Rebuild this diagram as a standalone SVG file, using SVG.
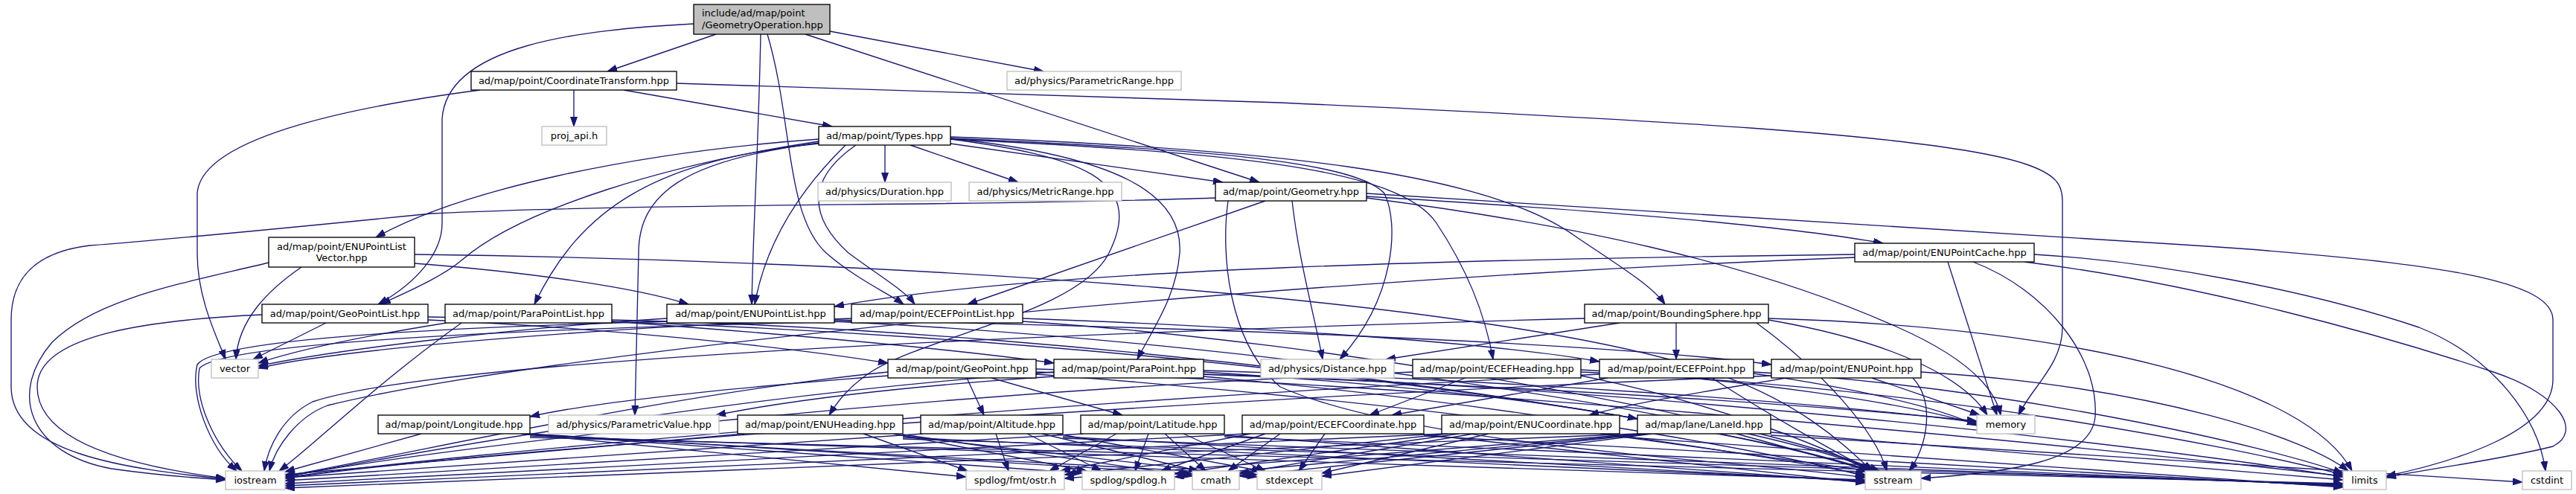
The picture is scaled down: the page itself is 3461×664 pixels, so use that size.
<svg xmlns="http://www.w3.org/2000/svg" width="3461" height="664" viewBox="0 0 3461 664">
<style>
.n rect{fill:#fff;stroke:#000;stroke-width:1.33}
.x rect{fill:#fff;stroke:#bfbfbf;stroke-width:1.33}
.r rect{fill:#bfbfbf;stroke:#000;stroke-width:1.33}
text{font-family:"DejaVu Sans","Liberation Sans",sans-serif;font-size:13px;fill:#000;text-anchor:middle}
.l{text-anchor:start}
#edges path{fill:none;stroke:#191970;stroke-width:1.33;marker-end:url(#a)}
</style>
<defs>
<marker id="a" markerUnits="userSpaceOnUse" markerWidth="14" markerHeight="10" refX="13" refY="4.5" orient="auto"><path d="M0,0 L13,4.5 L0,9 z" fill="#191970" stroke="#191970" stroke-width="1"/></marker>
</defs>
<rect width="3461" height="664" fill="#fff"/>
<g id="edges">
<path d="M962,46 L816,96"/>
<path d="M1115,42 L1402,96"/>
<path d="M1082,46 L1692,245"/>
<path d="M1022,46 C1019,200 1012,300 1010,409"/>
<path d="M1031,46 C1065,160 1055,290 1110,340 C1150,375 1195,395 1214,409"/>
<path d="M932,32 C780,40 600,60 594,160 L594,300 C594,340 560,380 508,409"/>
<path d="M771,121 L771,170"/>
<path d="M838,121 L1118,170"/>
<path d="M909,112 L1720,138 C2200,160 2600,180 2720,220 C2765,235 2771,250 2771,270 L2771,440 C2771,490 2730,520 2712,558"/>
<path d="M645,121 C500,140 270,180 265,260 L265,340 C265,400 290,450 303,483"/>
<path d="M1189,195 L1189,245"/>
<path d="M1223,195 L1368,245"/>
<path d="M1277,193 L1643,245"/>
<path d="M1100,187 C850,205 620,255 505,319"/>
<path d="M1100,190 C900,220 700,280 620,350 C590,375 540,395 512,409"/>
<path d="M1100,193 C880,215 780,280 718,409"/>
<path d="M1136,195 C1080,250 1030,320 1014,409"/>
<path d="M1150,195 C1085,240 1085,290 1140,340 C1180,370 1215,390 1229,409"/>
<path d="M1100,192 C920,215 858,260 858,340 L853,558"/>
<path d="M1277,187 C1450,210 1540,240 1490,340 C1450,420 1250,450 1170,500 C1140,520 1125,540 1114,558"/>
<path d="M1277,186 C1500,210 1590,260 1585,340 C1580,400 1550,440 1528,483"/>
<path d="M1277,184 C1700,200 2000,230 2120,320 C2180,360 2220,385 2237,409"/>
<path d="M1277,186 C1600,200 1820,215 1860,260 C1880,300 1875,400 1800,483"/>
<path d="M1277,187 C1650,205 1880,225 1930,300 C1970,360 1995,420 2006,483"/>
<path d="M1700,270 L1300,409"/>
<path d="M1836,264 C2100,280 2380,300 2530,327"/>
<path d="M1736,270 C1745,350 1765,420 1777,483"/>
<path d="M1633,266 C1300,278 900,272 580,287 C450,300 250,320 120,330 C40,340 15,380 15,430 L15,520 C15,610 170,630 303,644"/>
<path d="M1836,260 L2870,325 C3300,350 3430,380 3430,430 L3430,510 C3430,580 3300,620 3206,640"/>
<path d="M1836,266 C2100,300 2350,350 2550,440 C2640,480 2680,520 2688,558"/>
<path d="M1650,270 C1640,340 1650,460 1720,520 C1900,600 2350,620 2506,642"/>
<path d="M2492,342 C2000,348 1400,360 1121,412"/>
<path d="M2733,342 C2900,352 3100,390 3250,440 C3350,480 3410,560 3420,633"/>
<path d="M2720,352 C2950,380 3200,450 3350,500 C3440,530 3470,580 3430,600 C3350,620 3260,630 3206,642"/>
<path d="M2617,352 L2683,558"/>
<path d="M2651,352 C2750,390 2820,480 2815,560 C2810,620 2700,635 2581,643"/>
<path d="M2492,346 C1600,380 700,480 440,545 C400,560 370,600 362,633"/>
<path d="M557,354 C700,365 850,385 925,409"/>
<path d="M405,359 C360,390 320,430 317,483"/>
<path d="M361,353 C250,380 130,400 70,460 C10,530 40,610 150,630 C220,640 270,643 303,645"/>
<path d="M557,342 C1200,350 2000,400 2300,500 C2420,540 2480,600 2515,633"/>
<path d="M575,430 C800,440 1050,465 1193,488"/>
<path d="M438,434 L340,483"/>
<path d="M352,423 C200,430 50,450 50,520 C50,600 200,630 303,643"/>
<path d="M575,426 C1500,440 2300,560 2510,633"/>
<path d="M822,432 C1000,445 1250,465 1416,488"/>
<path d="M600,434 C500,450 400,470 347,488"/>
<path d="M620,434 C500,520 420,600 375,633"/>
<path d="M822,430 C1500,445 2300,560 2515,633"/>
<path d="M1121,430 C1600,440 2150,460 2380,490"/>
<path d="M896,428 C700,440 450,470 347,492"/>
<path d="M896,432 C600,440 290,455 265,490 C255,530 280,600 318,633"/>
<path d="M1121,432 C1700,460 2350,560 2520,633"/>
<path d="M1374,428 C1700,440 2000,460 2149,486"/>
<path d="M1144,428 C800,440 450,470 347,495"/>
<path d="M1144,432 C700,442 300,460 268,495 C260,540 290,600 325,633"/>
<path d="M1374,432 C1800,460 2350,560 2525,633"/>
<path d="M2252,434 L2252,483"/>
<path d="M2176,434 L1862,483"/>
<path d="M2129,428 C1500,445 600,480 420,540 C380,560 360,600 355,633"/>
<path d="M2376,428 C2800,440 3100,520 3160,633"/>
<path d="M2376,430 C2550,460 2640,510 2670,558"/>
<path d="M2360,434 C2450,500 2520,580 2535,633"/>
<path d="M1193,505 C1000,520 800,540 712,560"/>
<path d="M1299,508 L1322,558"/>
<path d="M1332,508 L1508,558"/>
<path d="M1193,500 C900,530 600,600 383,640"/>
<path d="M1392,500 C2000,520 2800,600 3148,640"/>
<path d="M1392,496 C1900,510 2400,540 2656,566"/>
<path d="M1392,503 C1900,540 2300,600 2506,638"/>
<path d="M1416,506 C1200,520 1050,540 962,558"/>
<path d="M1617,500 C1850,515 2050,535 2200,563"/>
<path d="M1416,500 C1000,530 600,600 383,641"/>
<path d="M1617,503 C2200,520 2900,600 3148,641"/>
<path d="M1617,498 C2000,510 2450,540 2656,568"/>
<path d="M1617,506 C2000,540 2350,600 2506,640"/>
<path d="M1969,508 L1840,558"/>
<path d="M1898,500 C1200,530 600,600 383,641"/>
<path d="M2124,500 C2600,520 3000,600 3148,638"/>
<path d="M2124,497 C2350,510 2550,540 2656,570"/>
<path d="M2124,505 C2300,540 2450,600 2512,633"/>
<path d="M2160,508 L1870,558"/>
<path d="M2149,503 C1400,540 600,610 383,642"/>
<path d="M2356,500 C2700,520 3050,600 3148,636"/>
<path d="M2356,502 C2480,520 2600,545 2656,572"/>
<path d="M2300,508 C2380,560 2470,610 2515,633"/>
<path d="M2400,508 C2300,525 2200,540 2135,558"/>
<path d="M2380,505 C1500,540 600,610 383,643"/>
<path d="M2581,500 C2900,520 3100,590 3155,633"/>
<path d="M2515,508 L2660,558"/>
<path d="M2570,508 C2600,540 2590,600 2565,633"/>
<path d="M566,583 L383,634"/>
<path d="M700,583 L1298,641"/>
<path d="M705,583 L1454,636"/>
<path d="M710,583 L1602,637"/>
<path d="M712,584 L1689,638"/>
<path d="M712,586 L2506,645"/>
<path d="M712,588 L3148,650"/>
<path d="M1000,583 L383,638"/>
<path d="M1160,583 L1300,633"/>
<path d="M1200,583 L1460,633"/>
<path d="M1213,584 L1602,640"/>
<path d="M1213,586 L1689,641"/>
<path d="M1213,588 L2506,646"/>
<path d="M1213,590 L3148,651"/>
<path d="M1240,583 L383,642"/>
<path d="M1338,583 L1355,633"/>
<path d="M1380,583 L1480,633"/>
<path d="M1400,583 L1610,633"/>
<path d="M1420,583 L1695,633"/>
<path d="M1428,587 L2506,647"/>
<path d="M1428,589 L3148,652"/>
<path d="M1455,583 L383,646"/>
<path d="M1500,583 L1410,633"/>
<path d="M1543,583 L1525,633"/>
<path d="M1565,583 L1620,633"/>
<path d="M1590,583 L1700,633"/>
<path d="M1645,585 L2506,648"/>
<path d="M1645,587 L3148,653"/>
<path d="M1675,583 L383,650"/>
<path d="M1680,583 L1425,633"/>
<path d="M1700,583 L1560,633"/>
<path d="M1720,583 L1650,633"/>
<path d="M1780,583 L1745,633"/>
<path d="M1913,584 L2506,649"/>
<path d="M1913,586 L3148,654"/>
<path d="M1940,583 L383,653"/>
<path d="M1945,583 L1430,638"/>
<path d="M1960,583 L1578,637"/>
<path d="M1980,583 L1665,636"/>
<path d="M2000,583 L1776,636"/>
<path d="M2150,583 L2510,633"/>
<path d="M2176,587 L3148,655"/>
<path d="M2200,583 L383,656"/>
<path d="M2205,583 L1430,643"/>
<path d="M2210,583 L1578,641"/>
<path d="M2215,583 L1665,640"/>
<path d="M2220,583 L1776,640"/>
<path d="M2333,583 L2515,633"/>
<path d="M2379,581 L3148,645"/>
<path d="M2379,585 L3389,648"/>
</g>
<g id="n_root" class="r"><rect x="932" y="6" width="183" height="40"/><text class="l" x="943" y="22">include/ad/map/point</text><text class="l" x="943" y="37.5">/GeometryOperation.hpp</text></g>
<g id="n_coordtrans" class="n"><rect x="633" y="96" width="276" height="25"/><text x="771" y="113">ad/map/point/CoordinateTransform.hpp</text></g>
<g id="n_paramrange" class="x"><rect x="1353" y="96" width="234" height="25"/><text x="1470" y="113">ad/physics/ParametricRange.hpp</text></g>
<g id="n_proj" class="x"><rect x="728" y="170" width="87" height="25"/><text x="771.5" y="187">proj_api.h</text></g>
<g id="n_types" class="n"><rect x="1100" y="170" width="177" height="25"/><text x="1188.5" y="187">ad/map/point/Types.hpp</text></g>
<g id="n_duration" class="x"><rect x="1099" y="245" width="179" height="25"/><text x="1188.5" y="262">ad/physics/Duration.hpp</text></g>
<g id="n_metricrange" class="x"><rect x="1302" y="245" width="205" height="25"/><text x="1404.5" y="262">ad/physics/MetricRange.hpp</text></g>
<g id="n_geometry" class="n"><rect x="1633" y="245" width="203" height="25"/><text x="1734.5" y="262">ad/map/point/Geometry.hpp</text></g>
<g id="n_enuplv" class="n"><rect x="361" y="319" width="196" height="40"/><text x="459" y="335.5">ad/map/point/ENUPointList</text><text x="459" y="351">Vector.hpp</text></g>
<g id="n_enucache" class="n"><rect x="2492" y="327" width="241" height="25"/><text x="2612.5" y="344">ad/map/point/ENUPointCache.hpp</text></g>
<g id="n_geopl" class="n"><rect x="352" y="409" width="223" height="25"/><text x="463.5" y="426">ad/map/point/GeoPointList.hpp</text></g>
<g id="n_parapl" class="n"><rect x="598" y="409" width="224" height="25"/><text x="710" y="426">ad/map/point/ParaPointList.hpp</text></g>
<g id="n_enupl" class="n"><rect x="896" y="409" width="225" height="25"/><text x="1008.5" y="426">ad/map/point/ENUPointList.hpp</text></g>
<g id="n_ecefpl" class="n"><rect x="1144" y="409" width="230" height="25"/><text x="1259" y="426">ad/map/point/ECEFPointList.hpp</text></g>
<g id="n_bsphere" class="n"><rect x="2129" y="409" width="247" height="25"/><text x="2252.5" y="426">ad/map/point/BoundingSphere.hpp</text></g>
<g id="n_vector" class="x"><rect x="284" y="483" width="63" height="25"/><text x="315.5" y="500">vector</text></g>
<g id="n_geopoint" class="n"><rect x="1193" y="483" width="199" height="25"/><text x="1292.5" y="500">ad/map/point/GeoPoint.hpp</text></g>
<g id="n_parapoint" class="n"><rect x="1416" y="483" width="201" height="25"/><text x="1516.5" y="500">ad/map/point/ParaPoint.hpp</text></g>
<g id="n_distance" class="x"><rect x="1694" y="483" width="179" height="25"/><text x="1783.5" y="500">ad/physics/Distance.hpp</text></g>
<g id="n_ecefheading" class="n"><rect x="1898" y="483" width="226" height="25"/><text x="2011" y="500">ad/map/point/ECEFHeading.hpp</text></g>
<g id="n_ecefpoint" class="n"><rect x="2149" y="483" width="207" height="25"/><text x="2252.5" y="500">ad/map/point/ECEFPoint.hpp</text></g>
<g id="n_enupoint" class="n"><rect x="2380" y="483" width="201" height="25"/><text x="2480.5" y="500">ad/map/point/ENUPoint.hpp</text></g>
<g id="n_longitude" class="n"><rect x="508" y="558" width="204" height="25"/><text x="610" y="575">ad/map/point/Longitude.hpp</text></g>
<g id="n_paramvalue" class="x"><rect x="737" y="558" width="229" height="25"/><text x="851.5" y="575">ad/physics/ParametricValue.hpp</text></g>
<g id="n_enuheading" class="n"><rect x="991" y="558" width="222" height="25"/><text x="1102" y="575">ad/map/point/ENUHeading.hpp</text></g>
<g id="n_altitude" class="n"><rect x="1237" y="558" width="191" height="25"/><text x="1332.5" y="575">ad/map/point/Altitude.hpp</text></g>
<g id="n_latitude" class="n"><rect x="1452" y="558" width="193" height="25"/><text x="1548.5" y="575">ad/map/point/Latitude.hpp</text></g>
<g id="n_ecefcoord" class="n"><rect x="1669" y="558" width="244" height="25"/><text x="1791" y="575">ad/map/point/ECEFCoordinate.hpp</text></g>
<g id="n_enucoord" class="n"><rect x="1937" y="558" width="239" height="25"/><text x="2056.5" y="575">ad/map/point/ENUCoordinate.hpp</text></g>
<g id="n_laneid" class="n"><rect x="2200" y="558" width="179" height="25"/><text x="2289.5" y="575">ad/map/lane/LaneId.hpp</text></g>
<g id="n_memory" class="x"><rect x="2656" y="558" width="78" height="25"/><text x="2695" y="575">memory</text></g>
<g id="n_iostream" class="x"><rect x="303" y="633" width="80" height="25"/><text x="343" y="650">iostream</text></g>
<g id="n_ostr" class="x"><rect x="1298" y="633" width="132" height="25"/><text x="1364" y="650">spdlog/fmt/ostr.h</text></g>
<g id="n_spdlog" class="x"><rect x="1454" y="633" width="124" height="25"/><text x="1516" y="650">spdlog/spdlog.h</text></g>
<g id="n_cmath" class="x"><rect x="1602" y="633" width="63" height="25"/><text x="1633.5" y="650">cmath</text></g>
<g id="n_stdexcept" class="x"><rect x="1689" y="633" width="87" height="25"/><text x="1732.5" y="650">stdexcept</text></g>
<g id="n_sstream" class="x"><rect x="2506" y="633" width="75" height="25"/><text x="2543.5" y="650">sstream</text></g>
<g id="n_limits" class="x"><rect x="3148" y="633" width="58" height="25"/><text x="3177" y="650">limits</text></g>
<g id="n_cstdint" class="x"><rect x="3389" y="633" width="66" height="25"/><text x="3422" y="650">cstdint</text></g>
</svg>
